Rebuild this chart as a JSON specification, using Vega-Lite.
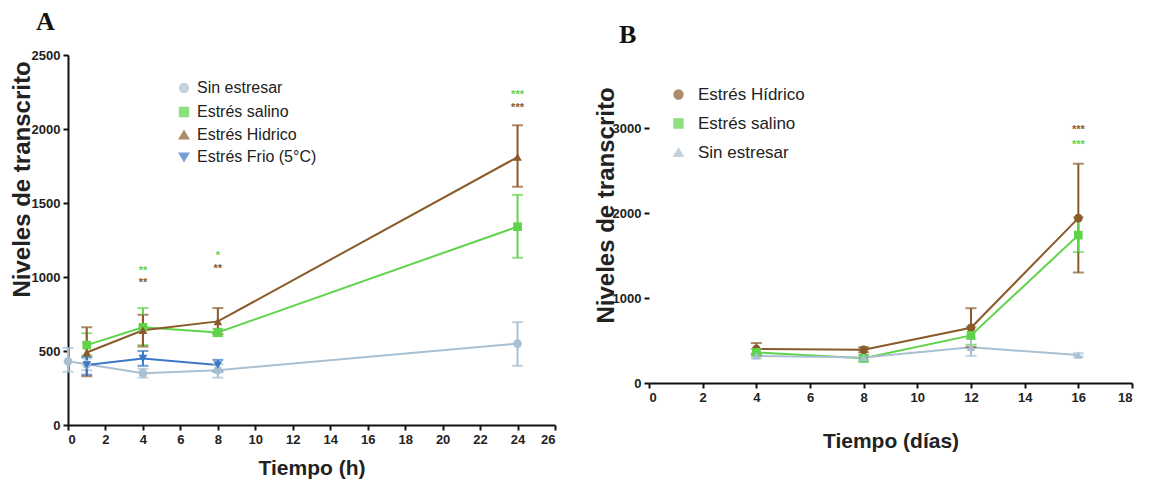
{
  "$schema": "https://vega.github.io/schema/vega-lite/v6.json",
  "background": "white",
  "padding": {"left": 10, "top": 9, "right": 5, "bottom": 2},
  "config": {
    "font": "Liberation Sans",
    "view": {"stroke": null},
    "axis": {"grid": false, "domainColor": "#111", "domainWidth": 2, "tickColor": "#111", "tickWidth": 2, "tickSize": 5, "labelFont": "Liberation Sans", "labelFontWeight": "bold", "labelFontSize": 13, "labelColor": "#222", "labelPadding": 3, "titleFont": "Liberation Sans", "titleFontWeight": "bold", "titleColor": "#222", "format": "d"},
    "legend": {"labelFont": "Liberation Sans", "labelColor": "#222"},
    "title": {"font": "Liberation Serif", "fontWeight": "bold", "fontSize": 26, "anchor": "start", "color": "#111", "frame": "bounds"}
  },
  "datasets": {
    "A": [
      {"series": "Sin estresar", "t": 0, "mean": 430, "lo": 360, "hi": 520},
      {"series": "Sin estresar", "t": 1, "mean": 410, "lo": 370, "hi": 450},
      {"series": "Sin estresar", "t": 4, "mean": 350, "lo": 320, "hi": 380},
      {"series": "Sin estresar", "t": 8, "mean": 370, "lo": 320, "hi": 410},
      {"series": "Sin estresar", "t": 24, "mean": 550, "lo": 400, "hi": 695},
      {"series": "Estrés salino", "t": 1, "mean": 540, "lo": 470, "hi": 620},
      {"series": "Estrés salino", "t": 4, "mean": 660, "lo": 540, "hi": 790},
      {"series": "Estrés salino", "t": 8, "mean": 625, "lo": 600, "hi": 650},
      {"series": "Estrés salino", "t": 24, "mean": 1340, "lo": 1130, "hi": 1555},
      {"series": "Estrés Hidrico", "t": 1, "mean": 490, "lo": 330, "hi": 660},
      {"series": "Estrés Hidrico", "t": 4, "mean": 640, "lo": 530, "hi": 745},
      {"series": "Estrés Hidrico", "t": 8, "mean": 700, "lo": 615, "hi": 790},
      {"series": "Estrés Hidrico", "t": 24, "mean": 1810, "lo": 1610, "hi": 2025},
      {"series": "Estrés Frio (5°C)", "t": 1, "mean": 405, "lo": 340, "hi": 460},
      {"series": "Estrés Frio (5°C)", "t": 4, "mean": 450, "lo": 400, "hi": 500},
      {"series": "Estrés Frio (5°C)", "t": 8, "mean": 405, "lo": 360, "hi": 440}
    ],
    "starsA": [
      {"series": "Estrés salino", "t": 4, "y": 1054, "label": "**"},
      {"series": "Estrés Hidrico", "t": 4, "y": 973, "label": "**"},
      {"series": "Estrés salino", "t": 8, "y": 1155, "label": "*"},
      {"series": "Estrés Hidrico", "t": 8, "y": 1068, "label": "**"},
      {"series": "Estrés salino", "t": 24, "y": 2243, "label": "***"},
      {"series": "Estrés Hidrico", "t": 24, "y": 2155, "label": "***"}
    ],
    "B": [
      {"series": "Estrés Hídrico", "t": 4, "mean": 400, "lo": 340, "hi": 470},
      {"series": "Estrés Hídrico", "t": 8, "mean": 390, "lo": 360, "hi": 420},
      {"series": "Estrés Hídrico", "t": 12, "mean": 650, "lo": 420, "hi": 880},
      {"series": "Estrés Hídrico", "t": 16, "mean": 1940, "lo": 1300, "hi": 2580},
      {"series": "Estrés salino", "t": 4, "mean": 360, "lo": 320, "hi": 400},
      {"series": "Estrés salino", "t": 8, "mean": 290, "lo": 250, "hi": 330},
      {"series": "Estrés salino", "t": 12, "mean": 560, "lo": 450, "hi": 660},
      {"series": "Estrés salino", "t": 16, "mean": 1740, "lo": 1540, "hi": 1950},
      {"series": "Sin estresar", "t": 4, "mean": 320, "lo": 290, "hi": 350},
      {"series": "Sin estresar", "t": 8, "mean": 300, "lo": 270, "hi": 330},
      {"series": "Sin estresar", "t": 12, "mean": 420, "lo": 320, "hi": 520},
      {"series": "Sin estresar", "t": 16, "mean": 330, "lo": 310, "hi": 350}
    ],
    "starsB": [
      {"series": "Estrés Hídrico", "t": 16, "y": 3000, "label": "***"},
      {"series": "Estrés salino", "t": 16, "y": 2824, "label": "***"}
    ]
  },
  "spacing": 38,
  "resolve": {"scale": {"color": "independent", "shape": "independent", "x": "independent", "y": "independent"}, "legend": {"color": "independent", "shape": "independent"}},
  "hconcat": [
    {
      "width": 487,
      "height": 370,
      "title": {"text": "A", "offset": 14, "dx": 26},
      "encoding": {
        "x": {"field": "t", "type": "quantitative", "scale": {"domain": [0, 26], "nice": false}, "axis": {"values": [0,2,4,6,8,10,12,14,16,18,20,22,24,26], "title": "Tiempo (h)", "titleFontSize": 21, "titlePadding": 11}},
        "color": {"field": "series", "type": "nominal", "scale": {"domain": ["Sin estresar", "Estrés salino", "Estrés Hidrico", "Estrés Frio (5°C)"], "range": ["#a9c0d2", "#5fd34a", "#8b5a2b", "#3b78c6"]}, "legend": {"orient": "none", "legendX": 108, "legendY": 25, "title": null, "labelFontSize": 16, "symbolSize": 70, "rowPadding": 6, "labelOffset": 5, "symbolStrokeWidth": 2}}
      },
      "layer": [
        {"data": {"name": "A"}, "mark": {"type": "line", "strokeWidth": 2},
         "encoding": {"y": {"field": "mean", "type": "quantitative", "title": "Niveles de transcrito", "scale": {"domain": [0, 2500], "nice": false}, "axis": {"values": [0,500,1000,1500,2000,2500], "titleFontSize": 24, "titleY": 124, "titlePadding": -3}}}},
        {"data": {"name": "A"}, "mark": {"type": "errorbar", "ticks": {"size": 11}, "thickness": 2},
         "encoding": {"y": {"field": "lo", "type": "quantitative", "title": "Niveles de transcrito"}, "y2": {"field": "hi"}}},
        {"data": {"name": "A"}, "mark": {"type": "point", "filled": true, "size": 75, "opacity": 1},
         "encoding": {"y": {"field": "mean", "type": "quantitative", "title": "Niveles de transcrito"},
           "shape": {"field": "series", "type": "nominal", "scale": {"domain": ["Sin estresar", "Estrés salino", "Estrés Hidrico", "Estrés Frio (5°C)"], "range": ["circle", "square", "triangle-up", "triangle-down"]}, "legend": {"orient": "none", "legendX": 108, "legendY": 25, "title": null, "labelFontSize": 16, "symbolSize": 70, "rowPadding": 6, "labelOffset": 5}}}},
        {"data": {"name": "starsA"}, "mark": {"type": "text", "fontSize": 11, "fontWeight": "bold", "baseline": "middle", "dy": 2},
         "encoding": {"y": {"field": "y", "type": "quantitative", "title": "Niveles de transcrito"}, "text": {"field": "label"}}}
      ]
    },
    {
      "width": 483,
      "height": 328,
      "title": {"text": "B", "offset": 7, "dx": 25},
      "encoding": {
        "x": {"field": "t", "type": "quantitative", "scale": {"domain": [0, 18], "nice": false}, "axis": {"values": [0,2,4,6,8,10,12,14,16,18], "title": "Tiempo (días)", "titleFontSize": 21, "titlePadding": 26}},
        "color": {"field": "series", "type": "nominal", "scale": {"domain": ["Estrés Hídrico", "Estrés salino", "Sin estresar"], "range": ["#8b5a2b", "#5fd34a", "#a9c0d2"]}, "legend": {"orient": "none", "legendX": 21, "legendY": 31, "title": null, "labelFontSize": 17, "symbolSize": 70, "rowPadding": 11, "labelOffset": 11, "symbolStrokeWidth": 2}}
      },
      "layer": [
        {"mark": {"type": "rule", "color": "#111", "strokeWidth": 2},
         "encoding": {"x": {"datum": 0, "type": "quantitative"}, "y": {"datum": 0, "type": "quantitative"}, "y2": {"datum": 3000}}},
        {"data": {"name": "B"}, "mark": {"type": "line", "strokeWidth": 2},
         "encoding": {"y": {"field": "mean", "type": "quantitative", "title": "Niveles de transcrito", "scale": {"domain": [0, 3859], "nice": false}, "axis": {"values": [0,1000,2000,3000], "domain": false, "titleFontSize": 24, "titleY": 150, "titlePadding": -6}}}},
        {"data": {"name": "B"}, "mark": {"type": "errorbar", "ticks": {"size": 11}, "thickness": 2},
         "encoding": {"y": {"field": "lo", "type": "quantitative", "title": "Niveles de transcrito"}, "y2": {"field": "hi"}}},
        {"data": {"name": "B"}, "mark": {"type": "point", "filled": true, "size": 75, "opacity": 1},
         "encoding": {"y": {"field": "mean", "type": "quantitative", "title": "Niveles de transcrito"},
           "shape": {"field": "series", "type": "nominal", "scale": {"domain": ["Estrés Hídrico", "Estrés salino", "Sin estresar"], "range": ["circle", "square", "triangle-up"]}, "legend": {"orient": "none", "legendX": 21, "legendY": 31, "title": null, "labelFontSize": 17, "symbolSize": 70, "rowPadding": 11, "labelOffset": 11}}}},
        {"data": {"name": "starsB"}, "mark": {"type": "text", "fontSize": 11, "fontWeight": "bold", "baseline": "middle", "dy": 2},
         "encoding": {"y": {"field": "y", "type": "quantitative", "title": "Niveles de transcrito"}, "text": {"field": "label"}}}
      ]
    }
  ]
}
